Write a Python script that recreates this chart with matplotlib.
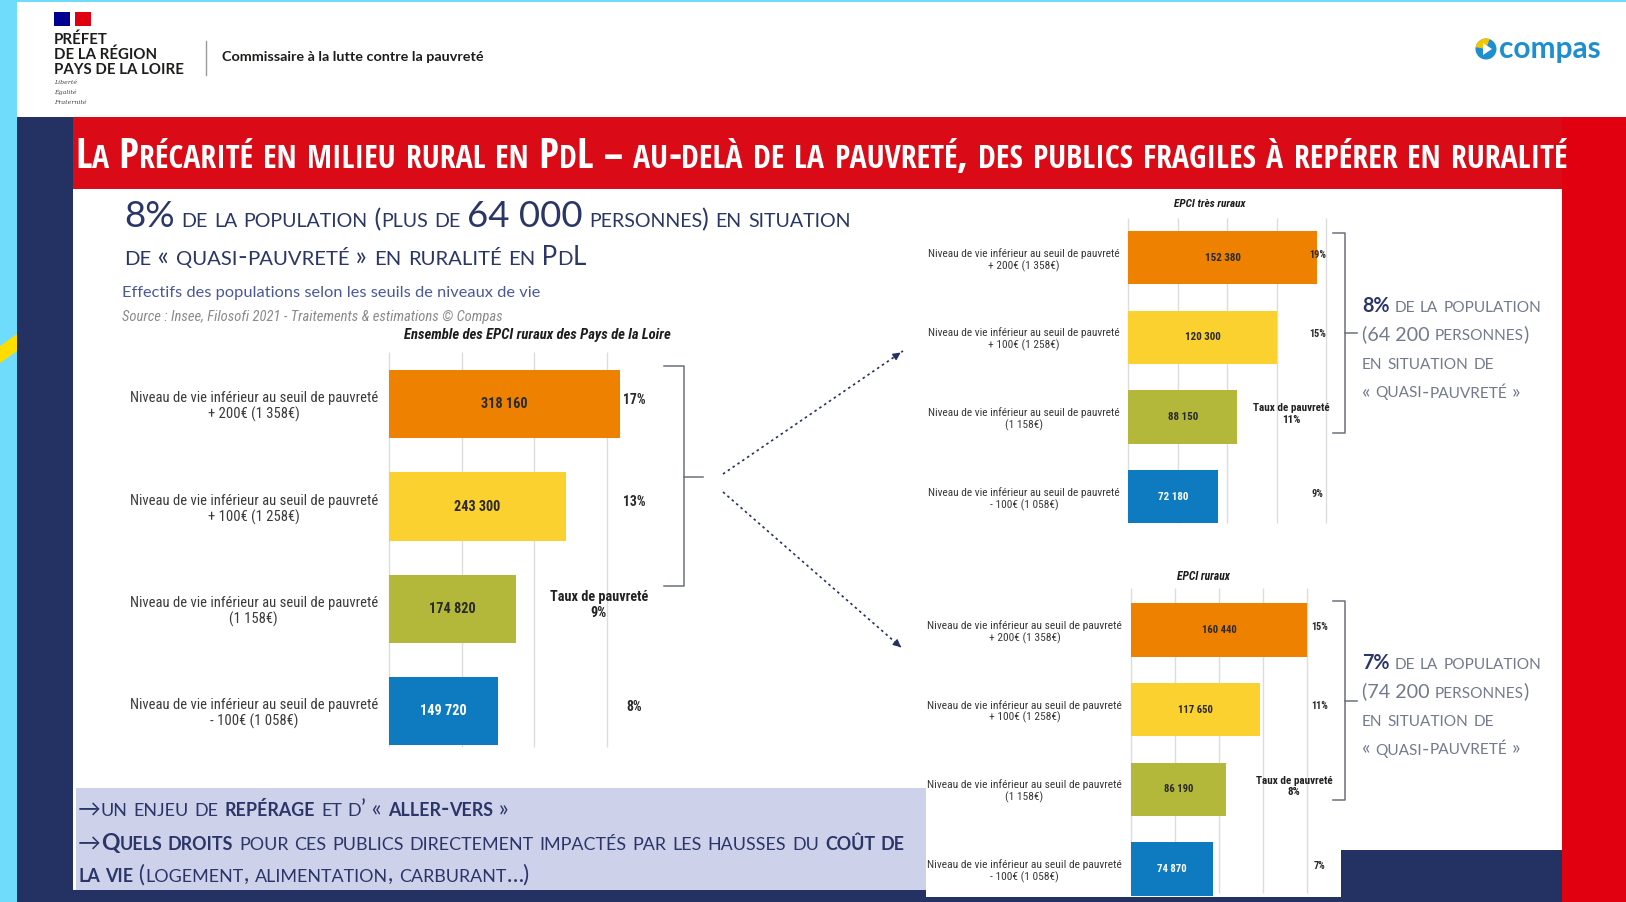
import numpy as np
import matplotlib
matplotlib.use("Agg")
import matplotlib.pyplot as plt
from matplotlib import font_manager
from matplotlib.font_manager import FontProperties
from matplotlib.patches import Rectangle, Polygon, Circle, Wedge

# ---- data ----
labels = ["Niveau de vie inférieur au seuil de pauvreté\n+ 200€ (1 358€)",
          "Niveau de vie inférieur au seuil de pauvreté\n+ 100€ (1 258€)",
          "Niveau de vie inférieur au seuil de pauvreté\n(1 158€)",
          "Niveau de vie inférieur au seuil de pauvreté\n- 100€ (1 058€)"]
bar_colors = ["#ee8200", "#fbd12f", "#b4b83a", "#0e7bc0"]

ensemble = [318160, 243300, 174820, 149720]
ensemble_pct = ["17%", "13%", None, "8%"]
ensemble_taux = "9%"

tres_ruraux = [152380, 120300, 88150, 72180]
tres_ruraux_pct = ["19%", "15%", None, "9%"]
tres_ruraux_taux = "11%"

ruraux = [160440, 117650, 86190, 74870]
ruraux_pct = ["15%", "11%", None, "7%"]
ruraux_taux = "8%"

NAVY = "#243163"
NAVY_TXT = "#2b3668"
GRAY_TXT = "#737a8c"

W, H = 1626, 902
fig = plt.figure(figsize=(W / 100, H / 100), dpi=100, facecolor="#6edcfa")
bg = fig.add_axes([0, 0, 1, 1])
bg.set_xlim(0, W)
bg.set_ylim(H, 0)
bg.axis("off")
renderer = fig.canvas.get_renderer()

available = {f.name for f in font_manager.fontManager.ttflist}


def pick(*names):
    for n in names:
        if n in available:
            return n
    return "DejaVu Sans"


HEAD = [pick("Open Sans Condensed", "Roboto Condensed", "Liberation Sans Narrow", "Lato"), "DejaVu Sans"]
BODY = [pick("Lato", "Open Sans"), "DejaVu Sans"]
NARROW = [pick("Roboto Condensed", "Liberation Sans Narrow", "Roboto"), "DejaVu Sans"]


def tw(s, size, family, weight="normal", style="normal"):
    # advance width in pixels, trailing spaces included
    fp = FontProperties(family=family, size=size, weight=weight, style=style)
    a = renderer.get_text_width_height_descent("|" + s + "|", fp, ismath=False)[0]
    b = renderer.get_text_width_height_descent("||", fp, ismath=False)[0]
    return a - b


def fit(s, width, family, weight="normal", style="normal"):
    line = max(s.split("\n"), key=lambda l: tw(l, 10, family, weight, style))
    return 10 * width / tw(line, 10, family, weight, style)


def caps_runs(parts, ratio):
    # lowercase letters become smaller capitals
    runs = []
    for txt, weight, mult, color in parts:
        for ch in txt:
            small = ch.islower()
            key = [mult * ratio if small else mult, weight, color]
            c = ch.upper() if small else ch
            if runs and runs[-1][1:] == key:
                runs[-1][0] += c
            else:
                runs.append([c] + key)
    return runs


def draw_caps(x, y, parts, family, size=None, width=None, ratio=0.78):
    runs = caps_runs(parts, ratio)
    if size is None:
        total = sum(tw(r[0], 10 * r[1], family, r[2]) for r in runs)
        size = 10 * width / total
    for s, mult, weight, color in runs:
        bg.text(x, y, s, fontsize=size * mult, fontweight=weight, color=color,
                family=family, va="baseline", ha="left")
        x += tw(s, size * mult, family, weight)
    return size


def rect(x0, y0, x1, y1, color):
    bg.add_patch(Rectangle((x0, y0), x1 - x0, y1 - y0, facecolor=color, edgecolor="none"))


# ---- slide background ----
rect(17, 117, 1562, 902, NAVY)
rect(73, 189, 1562, 897, "white")
rect(1341, 850, 1562, 902, NAVY)
rect(76, 788, 926, 890, "#cdd1ea")
rect(73, 890, 926, 902, NAVY)
rect(73, 117, 1626, 189, "#da0a16")
rect(1562, 117, 1626, 902, "#e1000f")
rect(17, 2, 1626, 117, "white")
bg.add_patch(Polygon([(0, 346), (17, 334), (17, 351), (0, 363)], facecolor="#ffdd00", edgecolor="none"))

# ---- header ----
rect(54, 12, 70, 26, "#000091")
rect(75, 12, 91, 26, "#e1000f")
for i, t in enumerate(["PRÉFET", "DE LA RÉGION", "PAYS DE LA LOIRE"]):
    bg.text(54, 40 + i * 15, t, fontsize=fit("PAYS DE LA LOIRE", 130, BODY, "bold"),
            fontweight="bold", family=BODY, color="#1d1d1b", va="center")
for i, t in enumerate(["Liberté", "Égalité", "Fraternité"]):
    bg.text(54, 82 + i * 10, t, fontsize=4.5, style="italic", family="DejaVu Serif",
            color="#444444", va="center")
bg.plot([206, 206], [41, 75], color="#9a9a9a", lw=1)
bg.text(222, 57, "Commissaire à la lutte contre la pauvreté",
        fontsize=fit("Commissaire à la lutte contre la pauvreté", 262, BODY, "bold"),
        fontweight="bold", family=BODY, color="#1d1d1b", va="center")
bg.add_patch(Circle((1486, 49), 10.5, facecolor="#1d8fd1", edgecolor="none"))
bg.add_patch(Wedge((1486, 49), 10.5, 190, 290, facecolor="#f6c500", edgecolor="none"))
bg.add_patch(Polygon([(1483, 43), (1483, 55), (1492, 49)], facecolor="white", edgecolor="none"))
bg.text(1499, 49, "compas", fontsize=fit("compas", 102, BODY, "bold"), fontweight="bold",
        family=BODY, color="#1d8fd1", va="center")

# ---- title bar ----
draw_caps(75, 168, [("La Précarité en milieu rural en PdL – au-delà de la pauvreté, "
                     "des publics fragiles à repérer en ruralité", "normal", 1, "white")],
          HEAD, width=1494)

# ---- headline ----
draw_caps(124, 227, [("8%", "normal", 1.45, NAVY_TXT),
                     (" de la population (plus de ", "normal", 1, NAVY_TXT),
                     ("64 000", "normal", 1.45, NAVY_TXT),
                     (" personnes) en situation", "normal", 1, NAVY_TXT)], BODY, width=731)
draw_caps(124, 265, [("de « quasi-pauvreté » en ruralité en PdL", "normal", 1, NAVY_TXT)],
          BODY, width=462)
bg.text(122, 293, "Effectifs des populations selon les seuils de niveaux de vie",
        fontsize=fit("Effectifs des populations selon les seuils de niveaux de vie", 418, BODY),
        family=BODY, color="#4a5899", va="center")
src = "Source : Insee, Filosofi 2021 - Traitements & estimations © Compas"
bg.text(122, 317, src, fontsize=fit(src, 378, NARROW, style="italic"), style="italic",
        family=NARROW, color="#8a8a8a", va="center")


# ---- bar panels ----
def panel(box, xmax, step, ylim, values, pcts, taux, pct_x, taux_x,
          lab_w, lab_pad, val_w, pct_w, taux_w):
    x0, x1, y0, y1 = box
    ax = fig.add_axes([x0 / W, 1 - y1 / H, (x1 - x0) / W, (y1 - y0) / H])
    ax.patch.set_visible(False)
    ax.set_xlim(0, xmax)
    ax.set_ylim(*ylim)
    for s in ax.spines.values():
        s.set_visible(False)
    ax.vlines(np.arange(0, xmax + 1, step), ylim[0], ylim[1], color="#dcdcdc", lw=1,
              zorder=0, clip_on=False)
    pos = np.arange(len(values))
    ax.barh(pos, values, height=0.67, color=bar_colors, zorder=2, clip_on=False)
    ax.set_xticks([])
    ax.set_yticks(pos)
    ax.set_yticklabels(labels, fontsize=fit(labels[0], lab_w, NARROW), family=NARROW,
                       color="#3a3a3a", linespacing=1.15)
    for t in ax.get_yticklabels():
        t.set_multialignment("center")
    ax.tick_params(axis="y", length=0, pad=lab_pad)
    vs = fit("318 160", val_w, NARROW, "bold")
    for p, v, c in zip(pos, values, bar_colors):
        ax.text(v / 2, p, f"{v:,}".replace(",", " "), ha="center", va="center", fontsize=vs,
                fontweight="bold", family=NARROW, zorder=3,
                color="white" if c == bar_colors[-1] else "#2a2a2a")
    ps = fit("17%", pct_w, NARROW, "bold")
    for p, t in zip(pos, pcts):
        if t:
            ax.text(pct_x, p - 0.04, t, ha="center", va="center", fontsize=ps,
                    fontweight="bold", family=NARROW, color="#2a2a2a", zorder=3, clip_on=False)
    ax.text(taux_x, 1.96, "Taux de pauvreté\n" + taux, ha="center", va="center",
            fontsize=fit("Taux de pauvreté", taux_w, NARROW, "bold"), fontweight="bold",
            family=NARROW, color="#222222", linespacing=1.15, zorder=3, clip_on=False)
    return ax


panel((389, 606.8, 352, 747), 300000, 100000, (3.35, -0.51), ensemble, ensemble_pct,
      ensemble_taux, 338000, 289000, 245, 8, 47, 23, 98)
panel((1128, 1326.4, 218, 523), 160000, 40000, (3.33, -0.5), tres_ruraux, tres_ruraux_pct,
      tres_ruraux_taux, 153000, 132000, 190, 5.8, 36, 17, 77)
panel((1131, 1307, 588, 893), 160000, 40000, (3.3, -0.525), ruraux, ruraux_pct,
      ruraux_taux, 171800, 148200, 192, 6.5, 35, 17, 77)

t1 = "Ensemble des EPCI ruraux des Pays de la Loire"
bg.text(537, 335, t1, fontsize=fit(t1, 267, NARROW, "bold", "italic"), fontweight="bold",
        style="italic", family=NARROW, color="#1d1d1b", ha="center", va="center")
bg.text(1210, 204, "EPCI très ruraux", fontsize=fit("EPCI très ruraux", 71, NARROW, "bold", "italic"),
        fontweight="bold", style="italic", family=NARROW, color="#1d1d1b", ha="center", va="center")
bg.text(1203, 576, "EPCI ruraux", fontsize=fit("EPCI ruraux", 53, NARROW, "bold", "italic"),
        fontweight="bold", style="italic", family=NARROW, color="#1d1d1b", ha="center", va="center")

# ---- brackets ----
BR = "#6b6f80"
bg.plot([664, 684, 684, 664], [366, 366, 586, 586], color=BR, lw=1.1)
bg.plot([684, 703], [477, 477], color=BR, lw=1.1)
for top, bot in [(233, 433), (601, 800)]:
    bg.plot([1333, 1345, 1345, 1333], [top, top, bot, bot], color=BR, lw=1.1)
    bg.plot([1345, 1357], [(top + bot) / 2] * 2, color=BR, lw=1.1)

# ---- dotted arrows ----
for (xa, ya), (xb, yb) in [((723, 474), (903, 351)), ((723, 492), (903, 649))]:
    bg.plot([xa, xb], [ya, yb], color=NAVY, lw=1.2, ls=(0, (1.5, 2)))
    bg.annotate("", xy=(xb, yb), xytext=(xb - (xb - xa) * 0.04, yb - (yb - ya) * 0.04),
                arrowprops=dict(arrowstyle="-|>", color=NAVY, lw=1, mutation_scale=11))

# ---- side comments ----
for base, share, people in [(312, "8%", "(64 200"), (669, "7%", "(74 200")]:
    k = draw_caps(1362, base, [(share, "bold", 1, NAVY_TXT),
                               (" de la population", "normal", 1, GRAY_TXT)], BODY, width=180)
    draw_caps(1362, base + 28.5, [(people, "normal", 1, GRAY_TXT),
                                  (" personnes)", "normal", 1, GRAY_TXT)], BODY, size=k)
    draw_caps(1362, base + 57, [("en situation de", "normal", 1, GRAY_TXT)], BODY, size=k)
    draw_caps(1362, base + 85.5, [("« quasi-pauvreté »", "normal", 1, GRAY_TXT)], BODY, size=k)

# ---- bottom box ----
k = draw_caps(78, 850, [("→", "normal", 1, NAVY_TXT), ("Quels droits", "bold", 1, NAVY_TXT),
                        (" pour ces publics directement impactés par les hausses du ", "normal", 1, NAVY_TXT),
                        ("coût de", "bold", 1, NAVY_TXT)], BODY, width=824)
draw_caps(78, 816, [("→", "normal", 1, NAVY_TXT), ("un enjeu de ", "normal", 1, NAVY_TXT),
                    ("repérage", "bold", 1, NAVY_TXT), (" et d’ « ", "normal", 1, NAVY_TXT),
                    ("aller-vers", "bold", 1, NAVY_TXT), (" »", "normal", 1, NAVY_TXT)], BODY, size=k)
draw_caps(78, 882, [("la vie", "bold", 1, NAVY_TXT),
                    (" (logement, alimentation, carburant…)", "normal", 1, NAVY_TXT)], BODY, size=k)

fig.savefig("out.png", dpi=100, facecolor=fig.get_facecolor())
